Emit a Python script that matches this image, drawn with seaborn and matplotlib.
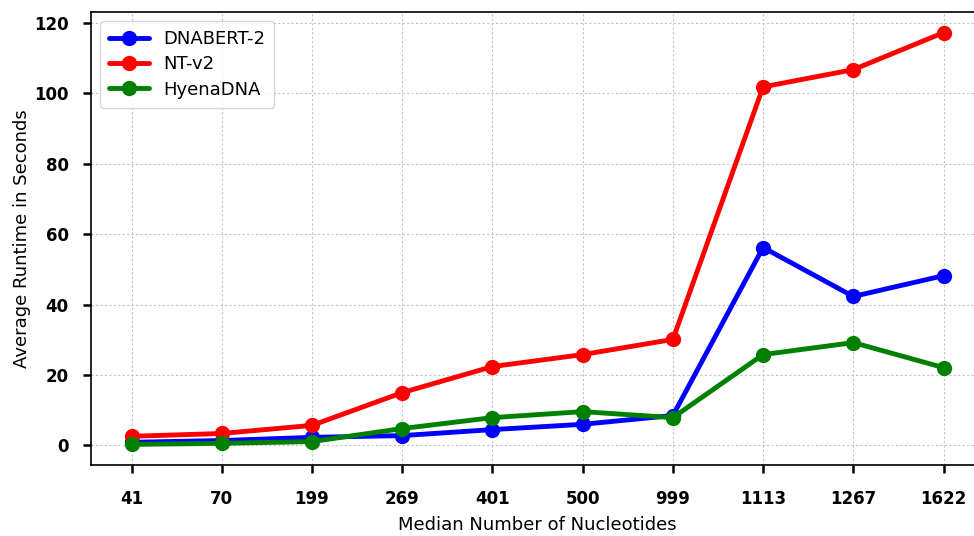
import seaborn as sns
import matplotlib.pyplot as plt
import pandas as pd
import numpy as np

lengths = ['41', '70', '199', '269', '401', '500', '999', '1113', '1267', '1622']
dnabert2 = [0.9, 1.4, 2.3, 2.8, 4.5, 6.0, 8.5, 56.2, 42.3, 48.2]
ntv2 = [2.6, 3.4, 5.7, 15.0, 22.4, 25.8, 30.1, 101.8, 106.7, 117.2]
hyena = [0.3, 0.6, 1.1, 4.8, 7.9, 9.6, 7.9, 25.8, 29.2, 22.1]

models = ['DNABERT-2', 'NT-v2', 'HyenaDNA']
colors = ['blue', 'red', 'green']

df = pd.DataFrame({
    'Length': lengths * 3,
    'Runtime': dnabert2 + ntv2 + hyena,
    'Model': np.repeat(models, len(lengths)),
})

sns.set_style('ticks')
plt.rcParams.update({'text.color': 'black', 'axes.labelcolor': 'black',
                     'xtick.color': 'black', 'ytick.color': 'black',
                     'axes.edgecolor': 'black'})
fig = plt.figure(figsize=(9.74, 5.36), dpi=100)
ax = fig.add_axes([0.0934, 0.1325, 0.917, 0.845])

sns.lineplot(data=df, x='Length', y='Runtime', hue='Model',
             hue_order=models, palette=colors, marker='o',
             markersize=11, markeredgewidth=0, linewidth=3.5,
             sort=False, ax=ax)

ax.grid(True, linestyle=(0, (2, 2)), color='#c4c4c4', linewidth=0.8)
ax.set_axisbelow(True)
ax.set_yticks(np.arange(0, 121, 20))
ax.tick_params(axis='both', direction='out', length=6, width=1.8,
               labelsize=12)
ax.tick_params(axis='x', pad=12)
ax.tick_params(axis='y', pad=10)
for lab in ax.get_xticklabels() + ax.get_yticklabels():
    lab.set_fontweight('bold')
for sp in ax.spines.values():
    sp.set_linewidth(1.2)

ax.set_xlabel('Median Number of Nucleotides', fontsize=13, labelpad=6)
ax.set_ylabel('Average Runtime in Seconds', fontsize=13, labelpad=2)

ax.legend(loc='upper left', fontsize=13, frameon=True,
          handlelength=2.2, borderpad=0.5, labelspacing=0.4)

fig.savefig('out.png', dpi=100)
